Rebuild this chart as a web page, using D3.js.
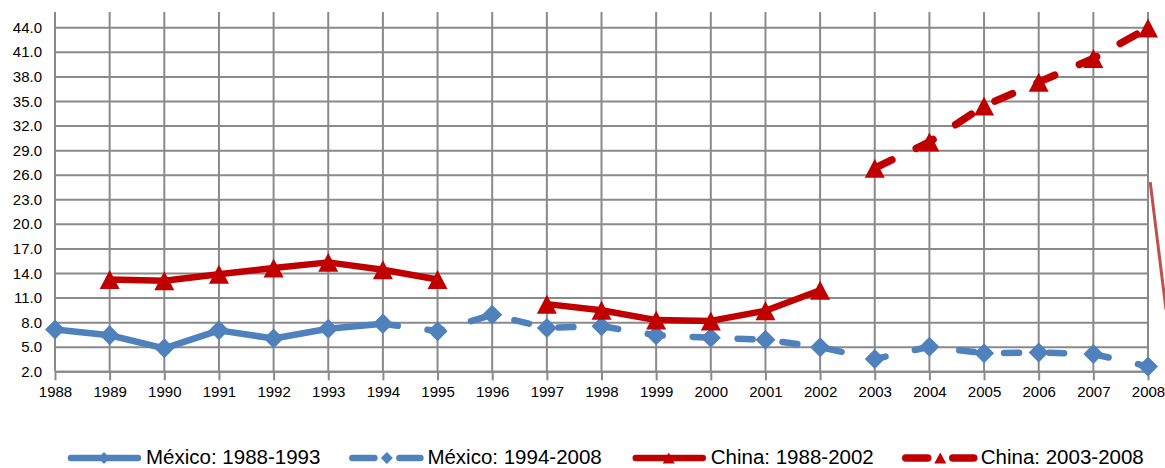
<!DOCTYPE html>
<html>
<head>
<meta charset="utf-8">
<script src="https://cdn.jsdelivr.net/npm/d3@7"></script>
<style>
  html, body { margin: 0; padding: 0; background: #ffffff; }
  svg { display: block; font-family: "Liberation Sans", Arial, sans-serif; }
</style>
</head>
<body>
<svg id="chart" width="1165" height="468"></svg>
<script>
// ---------- DATA ----------
const years = [1988,1989,1990,1991,1992,1993,1994,1995,1996,1997,1998,1999,2000,2001,2002,2003,2004,2005,2006,2007,2008];
const yTicks = [2,5,8,11,14,17,20,23,26,29,32,35,38,41,44];

const mexicoA_years  = [1988,1989,1990,1991,1992,1993,1994];
const mexicoA_values = [7.1, 6.4, 4.8, 7.0, 6.0, 7.2, 7.8];

const mexicoB_years  = [1994,1995,1996,1997,1998,1999,2000,2001,2002,2003,2004,2005,2006,2007,2008];
const mexicoB_values = [7.8, 6.9, 8.9, 7.3, 7.5, 6.4, 6.1, 5.85, 4.95, 3.5, 5.0, 4.2, 4.3, 4.1, 2.6];

const chinaA_years  = [1989,1990,1991,1992,1993,1994,1995,null,1997,1998,1999,2000,2001,2002];
const chinaA_values = [13.2,13.05,13.85,14.6,15.3,14.4,13.2,null,10.2,9.45,8.25,8.15,9.4,11.9];

const chinaB_years  = [2003,2004,2005,2006,2007,2008];
const chinaB_values = [26.8,30.0,34.4,37.3,40.2,43.9];

const strayLine_years  = [2008.04, 2008.33];
const strayLine_values = [25.1, 9.5];

const seriesNames = ["México: 1988-1993", "México: 1994-2008", "China: 1988-2002", "China: 2003-2008"];

// ---------- LAYOUT ----------
const W = 1165, H = 468;
const pLeft = 55, pRight = 1148, pTop = 12, pBottom = 371.3;
const svg = d3.select("#chart");
svg.append("rect").attr("width", W).attr("height", H).attr("fill", "#fff");

const x = d3.scaleLinear().domain([1988, 2008]).range([pLeft, pRight]);
const y = d3.scaleLinear().domain([2, 44]).range([pBottom, 27.3]);

const gridColor = "#8a8a8a";
const blue = "#4F81BD", red = "#C00000";

// horizontal grid + y labels
const yAxis = d3.axisLeft(y).tickValues(yTicks).tickFormat(d3.format(".1f"))
  .tickSizeInner(-(pRight - pLeft)).tickSizeOuter(0).tickPadding(13);
const gy = svg.append("g").attr("transform", `translate(${pLeft},0)`).call(yAxis);
gy.select(".domain").remove();
gy.selectAll(".tick line").attr("stroke", gridColor).attr("stroke-width", 2);
gy.selectAll(".tick text").attr("font-size", 15).attr("fill", "#000").attr("dy", "0.34em")
  .attr("font-family", "Liberation Sans, Arial, sans-serif");

// vertical grid
svg.append("g").selectAll("line").data(years).join("line")
  .attr("x1", d => x(d)).attr("x2", d => x(d))
  .attr("y1", pTop).attr("y2", pBottom)
  .attr("stroke", gridColor).attr("stroke-width", 2);

// x axis with ticks below
const xAxis = d3.axisBottom(x).tickValues(years).tickFormat(d3.format("d"))
  .tickSizeInner(9).tickSizeOuter(0).tickPadding(6);
const gx = svg.append("g").attr("transform", `translate(0,${pBottom})`).call(xAxis);
gx.select(".domain").attr("stroke", gridColor).attr("stroke-width", 2);
gx.selectAll(".tick line").attr("stroke", gridColor).attr("stroke-width", 2);
gx.selectAll(".tick text").attr("font-size", 15).attr("fill", "#000")
  .attr("font-family", "Liberation Sans, Arial, sans-serif");

// ---------- SERIES ----------
function pts(ys, vs) { return ys.map((yr, i) => ({yr, v: vs[i]})); }
const line = d3.line().defined(d => d.yr != null && d.v != null).x(d => x(d.yr)).y(d => y(d.v));

function diamondPath(s) { return `M0,${-s}L${s},0L0,${s}L${-s},0Z`; }
function trianglePath(w, h) { return `M0,${-h/2}L${w/2},${h/2}L${-w/2},${h/2}Z`; }

const series = [
  {data: pts(mexicoA_years, mexicoA_values), color: blue, width: 6.5, dash: null, marker: diamondPath(10)},
  {data: pts(mexicoB_years, mexicoB_values), color: blue, width: 6.5, dash: "15,30", marker: diamondPath(10)},
  {data: pts(chinaA_years, chinaA_values), color: red, width: 6.5, dash: null, marker: trianglePath(20, 19)},
  {data: pts(chinaB_years, chinaB_values), color: red, width: 7.5, dash: "19,27", marker: trianglePath(20, 19)}
];

series.forEach(s => {
  svg.append("path").datum(s.data).attr("d", line)
    .attr("fill", "none").attr("stroke", s.color).attr("stroke-width", s.width)
    .attr("stroke-linecap", "round").attr("stroke-linejoin", "round")
    .attr("stroke-dasharray", s.dash);
});
series.forEach(s => {
  svg.append("g").selectAll("path").data(s.data.filter(d => d.yr != null)).join("path")
    .attr("d", s.marker)
    .attr("transform", d => `translate(${x(d.yr)},${y(d.v)})`)
    .attr("fill", s.color);
});

// stray line at right edge
svg.append("path").datum(pts(strayLine_years, strayLine_values)).attr("d", line)
  .attr("fill", "none").attr("stroke", "#C0504D").attr("stroke-width", 3);

// ---------- LEGEND ----------
const legY = 458;
const legendDefs = [
  {color: blue, dashed: false, marker: diamondPath(6), w: 6.5},
  {color: blue, dashed: true,  marker: diamondPath(6), w: 6.5},
  {color: red,  dashed: false, marker: trianglePath(12, 11), w: 6.5},
  {color: red,  dashed: true,  marker: trianglePath(12, 11), w: 7.5}
];
let lx = 68;
const gaps = [29, 31, 29, 0];
seriesNames.forEach((name, i) => {
  const d = legendDefs[i];
  const g = svg.append("g").attr("transform", `translate(${lx},${legY})`);
  if (!d.dashed) {
    g.append("line").attr("x1", 3).attr("x2", 70).attr("y1", 0).attr("y2", 0)
      .attr("stroke", d.color).attr("stroke-width", d.w).attr("stroke-linecap", "round");
    g.append("path").attr("d", d.marker).attr("transform", "translate(36,0)").attr("fill", d.color);
  } else {
    g.append("line").attr("x1", 3).attr("x2", 25).attr("y1", 0).attr("y2", 0)
      .attr("stroke", d.color).attr("stroke-width", d.w).attr("stroke-linecap", "round");
    g.append("line").attr("x1", 50).attr("x2", 71).attr("y1", 0).attr("y2", 0)
      .attr("stroke", d.color).attr("stroke-width", d.w).attr("stroke-linecap", "round");
    g.append("path").attr("d", d.marker).attr("transform", "translate(37.5,0)").attr("fill", d.color);
  }
  const t = g.append("text").attr("x", 78).attr("y", 5.5).attr("font-size", 20.5).attr("fill", "#000")
    .attr("font-family", "Liberation Sans, Arial, sans-serif").text(name);
  lx += 78 + t.node().getComputedTextLength() + gaps[i];
});
</script>
</body>
</html>
